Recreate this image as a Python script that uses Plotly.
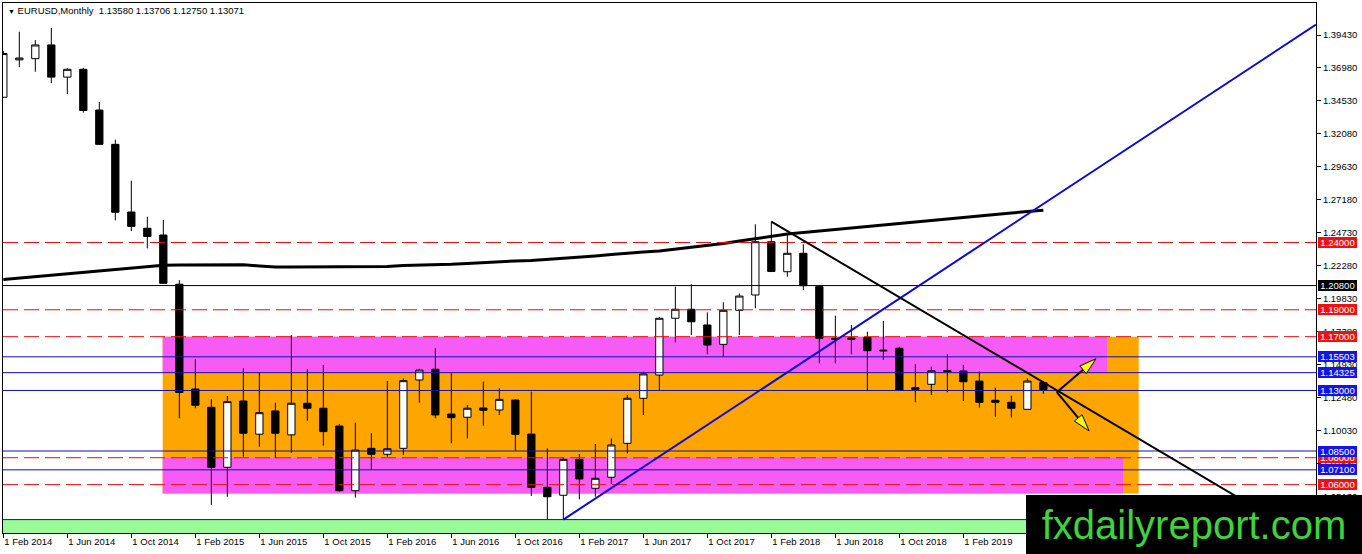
import math
import plotly.graph_objects as go

# EURUSD monthly bars, Feb 2014 .. Jul 2019
months = [
    "2014-02", "2014-03", "2014-04", "2014-05", "2014-06", "2014-07", "2014-08", "2014-09", "2014-10", "2014-11", "2014-12",
    "2015-01", "2015-02", "2015-03", "2015-04", "2015-05", "2015-06", "2015-07", "2015-08", "2015-09", "2015-10", "2015-11", "2015-12",
    "2016-01", "2016-02", "2016-03", "2016-04", "2016-05", "2016-06", "2016-07", "2016-08", "2016-09", "2016-10", "2016-11", "2016-12",
    "2017-01", "2017-02", "2017-03", "2017-04", "2017-05", "2017-06", "2017-07", "2017-08", "2017-09", "2017-10", "2017-11", "2017-12",
    "2018-01", "2018-02", "2018-03", "2018-04", "2018-05", "2018-06", "2018-07", "2018-08", "2018-09", "2018-10", "2018-11", "2018-12",
    "2019-01", "2019-02", "2019-03", "2019-04", "2019-05", "2019-06", "2019-07",
]
opens = [
    1.3480, 1.3758, 1.3767, 1.3869, 1.3630, 1.3688, 1.3385, 1.3130, 1.2627, 1.2506, 1.2456,
    1.2090, 1.1311, 1.1175, 1.0729, 1.1222, 1.0975, 1.1148, 1.0970, 1.1205, 1.1168, 1.1036, 1.0555,
    1.0870, 1.0826, 1.0870, 1.1378, 1.1458, 1.1125, 1.1101, 1.1170, 1.1155, 1.1229, 1.0976, 1.0580,
    1.0521, 1.0788, 1.0573, 1.0655, 1.0907, 1.1242, 1.1415, 1.1837, 1.1904, 1.1787, 1.1643, 1.1896,
    1.2010, 1.2406, 1.2183, 1.2320, 1.2072, 1.1688, 1.1680, 1.1693, 1.1600, 1.1614, 1.1321, 1.1346,
    1.1440, 1.1445, 1.1370, 1.1227, 1.1212, 1.1160, 1.13580,
]
highs = [
    1.3825, 1.3967, 1.3906, 1.3995, 1.3695, 1.3700, 1.3445, 1.3165, 1.2860, 1.2592, 1.2568,
    1.2120, 1.1532, 1.1234, 1.1259, 1.1465, 1.1432, 1.1209, 1.1713, 1.1458, 1.1489, 1.1051, 1.1061,
    1.0982, 1.1371, 1.1390, 1.1462, 1.1614, 1.1428, 1.1192, 1.1366, 1.1316, 1.1235, 1.1291, 1.0870,
    1.0804, 1.0828, 1.0902, 1.0944, 1.1266, 1.1439, 1.1846, 1.2072, 1.2090, 1.1881, 1.1956, 1.2021,
    1.2536, 1.2556, 1.2456, 1.2387, 1.2080, 1.1856, 1.1787, 1.1737, 1.1817, 1.1625, 1.1495, 1.1477,
    1.1569, 1.1490, 1.1440, 1.1321, 1.1261, 1.1390, 1.13706,
]
lows = [
    1.3474, 1.3704, 1.3670, 1.3585, 1.3504, 1.3366, 1.3125, 1.2565, 1.2485, 1.2357, 1.2095,
    1.1093, 1.1168, 1.0449, 1.0510, 1.0808, 1.0882, 1.0796, 1.0837, 1.1075, 1.0890, 1.0548, 1.0503,
    1.0709, 1.0808, 1.0820, 1.1209, 1.1093, 1.0908, 1.0944, 1.1038, 1.1118, 1.0852, 1.0516, 1.0342,
    1.0340, 1.0491, 1.0510, 1.0605, 1.0833, 1.1118, 1.1304, 1.1658, 1.1713, 1.1569, 1.1551, 1.1713,
    1.1911, 1.2180, 1.2146, 1.2047, 1.1502, 1.1502, 1.1569, 1.1296, 1.1527, 1.1296, 1.1212, 1.1266,
    1.1287, 1.1222, 1.1172, 1.1105, 1.1098, 1.1158, 1.12750,
]
closes = [
    1.3805, 1.3772, 1.3869, 1.3630, 1.3688, 1.3382, 1.3130, 1.2625, 1.2520, 1.2445, 1.2097,
    1.1285, 1.1190, 1.0729, 1.1217, 1.0982, 1.1135, 1.0982, 1.1205, 1.1168, 1.0994, 1.0555, 1.0857,
    1.0826, 1.0867, 1.1373, 1.1452, 1.1118, 1.1098, 1.1168, 1.1153, 1.1234, 1.0974, 1.0580, 1.0510,
    1.0788, 1.0642, 1.0647, 1.0895, 1.1242, 1.1423, 1.1837, 1.1904, 1.1811, 1.1638, 1.1896, 1.2002,
    1.2406, 1.2185, 1.2320, 1.2079, 1.1688, 1.1680, 1.1690, 1.1596, 1.1595, 1.1304, 1.1309, 1.1447,
    1.1447, 1.1365, 1.1212, 1.1212, 1.1168, 1.1370, 1.13071,
]
# long moving average (thick black line)
ma_values = [
    1.2125, 1.2136, 1.2147, 1.2158, 1.2168, 1.2179, 1.2190, 1.2201, 1.2211, 1.2223, 1.2231,
    1.2233, 1.2233, 1.2234, 1.2235, 1.2234, 1.2226, 1.2218, 1.2218, 1.2218, 1.2218, 1.2218, 1.2218,
    1.2218, 1.2222, 1.2229, 1.2231, 1.2233, 1.2238, 1.2244, 1.2252, 1.2259, 1.2263, 1.2266, 1.2274,
    1.2280, 1.2289, 1.2300, 1.2311, 1.2322, 1.2330, 1.2337, 1.2350, 1.2363, 1.2378, 1.2393, 1.2411,
    1.2430, 1.2449, 1.2463, 1.2475, 1.2487, 1.2498, 1.2509, 1.2520, 1.2531, 1.2542, 1.2553, 1.2565,
    1.2576, 1.2587, 1.2598, 1.2609, 1.2620, 1.2630, 1.2640,
]

tick_labels = [
    "1 Feb 2014", "1 Jun 2014", "1 Oct 2014", "1 Feb 2015", "1 Jun 2015", "1 Oct 2015",
    "1 Feb 2016", "1 Jun 2016", "1 Oct 2016", "1 Feb 2017", "1 Jun 2017", "1 Oct 2017",
    "1 Feb 2018", "1 Jun 2018", "1 Oct 2018", "1 Feb 2019",
]
y_ticks = [1.39430, 1.36980, 1.34530, 1.32080, 1.29630, 1.27180, 1.24730, 1.22280,
           1.19830, 1.17380, 1.14930, 1.12480, 1.10030, 1.07580, 1.05130, 1.02680]

red_levels = [1.24000, 1.19000, 1.17000, 1.08000, 1.06000]
black_levels = [1.20800]
blue_levels = [1.15503, 1.14325, 1.13000, 1.08500, 1.07100]
support_low = 1.0340

# drawn objects (bar index, price)
orange_zone = (9.96, 70.96, 1.0535, 1.1700)
magenta_top = (9.96, 68.98, 1.14325, 1.1700)
magenta_bottom = (9.96, 69.98, 1.0535, 1.0800)
blue_trend = [(35, 1.0340), (82.04, 1.4020)]
black_trend = [(48, 1.2556), (80.5, 1.0270)]
arrow_tail = (65.84, 1.1287)
arrow_tips = [(68.29, 1.1536), (67.86, 1.0999)]

W, H = 1362, 554
ML, MR, MT, MB = 3, 46, 3, 21
PW, PH = W - ML - MR, H - MT - MB
X_RANGE = [-0.02, 82.04]
Y_RANGE = [1.02404, 1.41809]
FONT = "Liberation Sans"

x = list(range(len(months)))

fig = go.Figure()
fig.add_trace(go.Candlestick(
    x=x, open=opens, high=highs, low=lows, close=closes,
    increasing=dict(line=dict(color="black", width=1), fillcolor="white"),
    decreasing=dict(line=dict(color="black", width=1), fillcolor="black"),
    showlegend=False, hoverinfo="skip",
))
fig.add_trace(go.Scatter(x=x, y=ma_values, mode="lines",
                         line=dict(color="black", width=3), showlegend=False, hoverinfo="skip"))

shapes = []
shapes.append(dict(type="rect", xref="paper", x0=0, x1=1, yref="y", y0=Y_RANGE[0], y1=support_low,
                   fillcolor="#98fb98", line=dict(width=0), layer="below"))
for (x0, x1, y0, y1), col in [(orange_zone, "#ffa500"), (magenta_top, "#f65cf4"), (magenta_bottom, "#f65cf4")]:
    shapes.append(dict(type="rect", x0=x0, x1=x1, y0=y0, y1=y1, fillcolor=col,
                       line=dict(width=0), layer="below"))

for lv in red_levels:
    shapes.append(dict(type="line", xref="paper", x0=0, x1=1, y0=lv, y1=lv,
                       line=dict(color="#e01010", width=1, dash="15px,6px")))
for lv in black_levels:
    shapes.append(dict(type="line", xref="paper", x0=0, x1=1, y0=lv, y1=lv,
                       line=dict(color="black", width=1)))
for lv in blue_levels + [support_low]:
    shapes.append(dict(type="line", xref="paper", x0=0, x1=1, y0=lv, y1=lv,
                       line=dict(color="#1010b0", width=1)))

shapes.append(dict(type="line", x0=blue_trend[0][0], y0=blue_trend[0][1], x1=blue_trend[1][0], y1=blue_trend[1][1],
                   line=dict(color="#0a0ad0", width=2)))
shapes.append(dict(type="line", x0=black_trend[0][0], y0=black_trend[0][1], x1=black_trend[1][0], y1=black_trend[1][1],
                   line=dict(color="black", width=2)))

# arrows with yellow heads
sx = PW / (X_RANGE[1] - X_RANGE[0])
sy = PH / (Y_RANGE[1] - Y_RANGE[0])
for tip in arrow_tips:
    dx = (tip[0] - arrow_tail[0]) * sx
    dy = (tip[1] - arrow_tail[1]) * sy
    d = math.hypot(dx, dy)
    ux, uy = dx / d, dy / d
    bx, by = tip[0] - 17 * ux / sx, tip[1] - 17 * uy / sy
    c1 = (bx - 5 * uy / sx, by + 5 * ux / sy)
    c2 = (bx + 5 * uy / sx, by - 5 * ux / sy)
    shapes.append(dict(type="line", x0=arrow_tail[0], y0=arrow_tail[1], x1=bx, y1=by,
                       line=dict(color="black", width=2)))
    shapes.append(dict(type="path",
                       path=f"M {tip[0]},{tip[1]} L {c1[0]},{c1[1]} L {c2[0]},{c2[1]} Z",
                       fillcolor="#ffff00", line=dict(color="black", width=1)))

annotations = []
for levels, col in [(red_levels, "#ee1111"), (black_levels, "black"), (blue_levels, "#1414e6")]:
    for lv in levels:
        annotations.append(dict(xref="paper", x=1, xanchor="left", xshift=2, yref="y", y=lv,
                                text=f"{lv:.5f}", showarrow=False, bgcolor=col,
                                width=39, height=11, borderpad=0, borderwidth=0,
                                font=dict(family=FONT, size=9.5, color="white")))

header = "EURUSD,Monthly\u00a0\u00a0" + " ".join(f"{v:.5f}" for v in (opens[-1], highs[-1], lows[-1], closes[-1]))
annotations.append(dict(xref="paper", x=0, xanchor="left", xshift=3, yref="paper", y=1, yanchor="top",
                        text="<span style='font-size:7px'>\u25bc</span> " + header, showarrow=False,
                        font=dict(family=FONT, size=9.5, color="black")))

annotations.append(dict(xref="paper", x=(1026 - ML) / PW, xanchor="left",
                        yref="paper", y=-MB / PH, yanchor="bottom",
                        text="fxdailyreport.com", showarrow=False, bgcolor="black",
                        width=W - 1026, height=59, borderpad=0, borderwidth=0,
                        font=dict(family=FONT, size=40, color="#3fd23a")))

fig.update_layout(
    width=W, height=H,
    margin=dict(l=ML, r=MR, t=MT, b=MB),
    paper_bgcolor="white", plot_bgcolor="white",
    boxgap=0.35,
    shapes=shapes, annotations=annotations,
    font=dict(family=FONT, size=9.5, color="black"),
    xaxis=dict(range=X_RANGE, rangeslider=dict(visible=False), showgrid=False, zeroline=False,
               tickvals=list(range(0, 4 * len(tick_labels), 4)), ticktext=tick_labels,
               ticks="outside", ticklen=4, tickcolor="black", ticklabelposition="outside right",
               showline=True, linecolor="black", linewidth=1, mirror=True),
    yaxis=dict(range=Y_RANGE, side="right", showgrid=False, zeroline=False,
               tickvals=y_ticks, ticktext=[f"{v:.5f}" for v in y_ticks],
               ticks="outside", ticklen=4, tickcolor="black",
               showline=True, linecolor="black", linewidth=1, mirror=True),
)

# the page body has a default 8px margin; remove it so the figure sits at the window origin
fig.write_html("out.html", config={"displayModeBar": False},
               post_script="document.body.style.margin='0';document.body.style.overflow='hidden';")
